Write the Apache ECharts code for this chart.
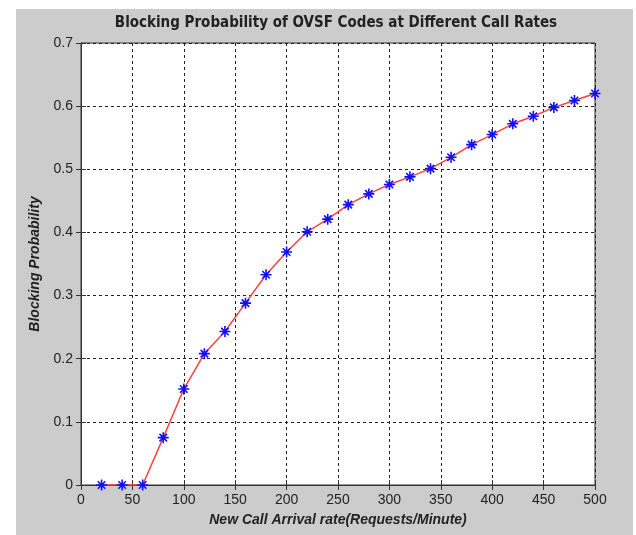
<!DOCTYPE html>
<html>
<head>
<meta charset="utf-8">
<style>html,body{margin:0;padding:0;background:#fff;}#c{width:636px;height:535px;}</style>
<script src="https://cdn.jsdelivr.net/npm/echarts@6/dist/echarts.min.js"></script>
</head>
<body>
<div id="c"></div>
<script>
const callRates = [20,40,60,80,100,120,140,160,180,200,220,240,260,280,300,320,340,360,380,400,420,440,460,480,500];
const blockingProb = [0,0,0,0.075,0.152,0.208,0.243,0.288,0.333,0.369,0.401,0.421,0.444,0.461,0.476,0.488,0.501,0.519,0.539,0.555,0.572,0.584,0.598,0.609,0.620];
const xTicks = [0,50,100,150,200,250,300,350,400,450,500];
const yTicks = [0,0.1,0.2,0.3,0.4,0.5,0.6,0.7];
const titleText = 'Blocking Probability of OVSF Codes at Different Call Rates';
const xName = 'New Call Arrival rate(Requests/Minute)';
const yName = 'Blocking Probability';

const points = callRates.map((x, i) => [x, blockingProb[i]]);
const chart = echarts.init(document.getElementById('c'), null, {renderer: 'canvas'});
const tickFont = {fontFamily: 'Liberation Sans', fontSize: 14, color: '#222'};
const gridLine = {show: true, lineStyle: {color: '#222', type: [3, 3], width: 1}};
const axisLine = {show: true, lineStyle: {color: '#333', width: 1}};
const axisTick = {show: true, inside: true, length: 5, lineStyle: {color: '#333'}};
chart.setOption({
  backgroundColor: '#ffffff',
  animation: false,
  graphic: [{type: 'rect', z: -10, shape: {x: 16, y: 9, width: 617, height: 526}, style: {fill: '#cccccc'}}],
  title: {
    text: titleText, left: 331, top: 11, textAlign: 'center',
    textStyle: {fontFamily: '"DejaVu Sans Condensed", "Liberation Sans", sans-serif', fontWeight: 'bold', fontSize: 15, color: '#222'}
  },
  grid: {left: 81, top: 43, width: 514, height: 442, show: true, backgroundColor: '#fff', borderColor: '#333', borderWidth: 1},
  xAxis: [{
    type: 'value', min: 0, max: 500, interval: 50, position: 'bottom',
    axisLine, axisTick, splitLine: gridLine,
    axisLabel: Object.assign({margin: 8, formatter: v => xTicks.includes(v) ? String(v) : ''}, tickFont),
    name: xName, nameLocation: 'middle', nameGap: 28,
    nameTextStyle: {fontFamily: 'Liberation Sans', fontWeight: 'bold', fontStyle: 'italic', fontSize: 14, color: '#222'}
  }, {
    type: 'value', min: 0, max: 500, interval: 50, position: 'top',
    axisLine, axisTick, splitLine: {show: false}, axisLabel: {show: false}
  }],
  yAxis: [{
    type: 'value', min: 0, max: 0.7, interval: 0.1, position: 'left',
    axisLine, axisTick, splitLine: gridLine,
    axisLabel: Object.assign({margin: 8, formatter: v => { const r = Math.round(v * 10) / 10; return yTicks.includes(r) ? String(r) : ''; }}, tickFont),
    name: yName, nameLocation: 'middle', nameGap: 31, nameRotate: 90,
    nameTextStyle: {fontFamily: 'Liberation Sans', fontWeight: 'bold', fontStyle: 'italic', fontSize: 14, color: '#222'}
  }, {
    type: 'value', min: 0, max: 0.7, interval: 0.1, position: 'right',
    axisLine, axisTick, splitLine: {show: false}, axisLabel: {show: false}
  }],
  series: [{
    type: 'line', data: points, xAxisIndex: 0, yAxisIndex: 0,
    lineStyle: {color: '#ff4040', width: 1.5},
    symbol: 'path://M5 0L5 10M0 5L10 5M1.6 1.6L8.4 8.4M8.4 1.6L1.6 8.4',
    symbolSize: 11, showAllSymbol: true,
    itemStyle: {color: '#1010ff', borderColor: '#1010ff', borderWidth: 1.6},
    z: 3
  }]
});
</script>
</body>
</html>
